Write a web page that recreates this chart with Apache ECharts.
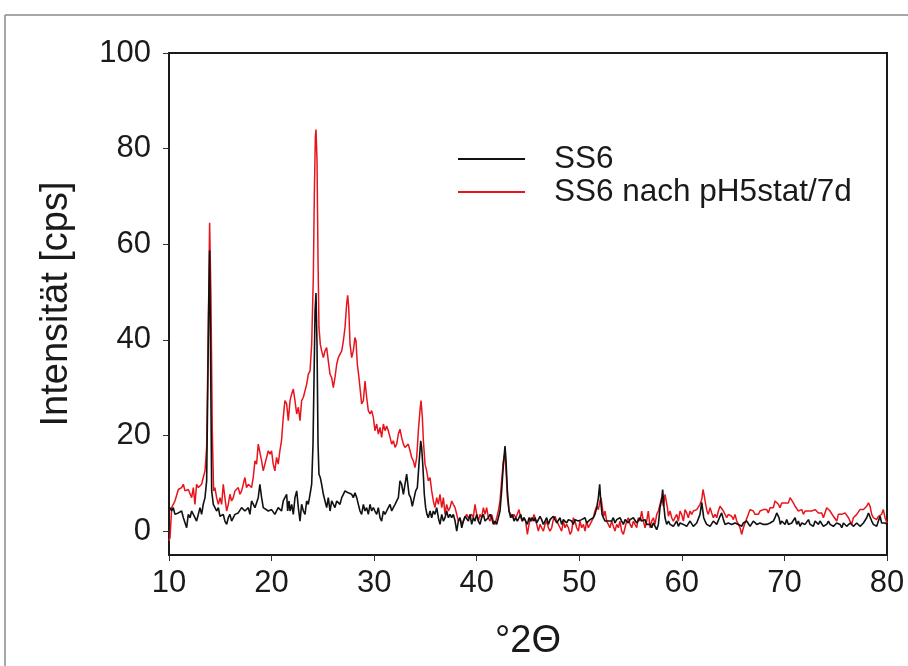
<!DOCTYPE html>
<html>
<head>
<meta charset="utf-8">
<script src="https://cdn.jsdelivr.net/npm/echarts@6/dist/echarts.min.js"></script>
<style>html,body{margin:0;padding:0;background:#fff}#c{width:908px;height:666px}</style>
</head>
<body>
<div id="c"></div>
<script>
// X axis tick values (°2Θ) and Y axis tick values (cps)
const xTicks = [10, 20, 30, 40, 50, 60, 70, 80];
const yTicks = [0, 20, 40, 60, 80, 100];
const seriesNames = ['SS6', 'SS6 nach pH5stat/7d'];

// SS6 (black)
const ss6Theta = [10.10,10.26,10.42,10.58,10.91,11.23,11.40,11.72,11.88,12.05,12.21,12.53,12.69,12.86,13.02,13.18,13.34,13.51,13.67,13.77,13.86,13.96,14.06,14.16,14.32,14.48,14.64,14.81,14.97,15.13,15.29,15.45,15.62,15.78,15.94,16.10,16.43,16.75,17.08,17.40,17.73,17.89,18.05,18.38,18.70,18.86,19.03,19.19,19.35,19.68,20.00,20.32,20.65,20.97,21.14,21.30,
21.47,21.57,21.70,21.80,21.96,22.12,22.28,22.45,22.61,22.77,22.93,23.10,23.26,23.42,23.58,23.75,23.91,24.04,24.14,24.24,24.33,24.43,24.53,24.62,24.75,24.88,25.05,25.21,25.37,25.53,25.70,25.86,26.02,26.18,26.35,26.51,26.67,26.84,27.00,27.16,27.32,27.48,27.65,27.81,27.97,28.13,28.30,28.46,28.62,28.78,28.95,29.11,29.27,29.43,29.60,29.76,29.92,30.08,30.25,30.41,30.57,30.73,30.90,31.06,31.22,31.38,31.55,31.71,31.87,32.04,32.20,32.36,32.52,32.68,32.85,33.01,
33.17,33.27,33.40,33.56,33.72,33.89,34.05,34.21,34.37,34.54,34.63,34.76,34.89,35.02,35.15,35.28,35.45,35.61,35.77,35.93,36.10,36.26,36.42,36.59,36.75,36.91,37.07,37.24,37.40,37.56,37.72,37.89,38.05,38.21,38.37,38.54,38.70,38.86,39.02,39.19,39.35,39.51,39.67,39.83,40.00,40.16,40.32,40.48,40.65,40.81,41.13,41.30,41.46,41.62,41.78,41.95,42.11,42.27,42.43,42.60,42.76,42.86,42.99,43.15,43.31,43.47,43.64,43.80,43.96,44.12,44.29,44.45,44.61,44.77,44.94,45.10,45.26,45.42,45.59,
45.69,45.85,46.01,46.17,46.33,46.50,46.66,46.82,46.99,47.15,47.31,47.47,47.63,47.80,47.96,48.12,48.28,48.45,48.61,48.77,48.94,49.10,49.26,49.42,49.58,49.75,49.91,50.07,50.23,50.40,50.56,50.72,50.88,51.05,51.21,51.37,51.53,51.70,51.86,51.99,52.09,52.22,52.35,52.51,52.67,52.83,52.99,53.16,53.32,53.48,53.65,53.81,53.97,54.13,54.30,54.46,54.62,54.78,54.95,55.11,55.27,55.43,55.60,55.76,55.92,56.08,56.25,56.41,
56.57,56.73,56.90,57.06,57.22,57.38,57.55,57.71,57.87,58.03,58.13,58.26,58.36,58.52,58.69,58.85,59.01,59.17,59.33,59.50,59.66,59.82,59.98,60.15,60.31,60.47,60.63,60.80,60.96,61.12,61.28,61.45,61.61,61.77,61.94,62.03,62.13,62.26,62.42,62.58,62.75,62.91,63.07,63.23,63.40,63.56,63.72,63.88,64.05,64.21,64.37,64.53,64.70,64.86,65.02,65.18,65.35,65.51,65.67,65.83,66.00,66.16,66.32,66.48,66.65,66.81,66.97,67.13,67.30,67.46,67.62,67.78,67.95,68.11,
68.27,68.43,68.60,68.76,68.92,69.08,69.25,69.34,69.47,69.60,69.73,69.90,70.06,70.22,70.39,70.55,70.71,70.87,71.04,71.20,71.36,71.52,71.69,71.85,72.01,72.17,72.34,72.50,72.66,72.82,72.99,73.15,73.31,73.47,73.64,73.80,73.96,74.12,74.29,74.45,74.61,74.77,74.94,75.10,75.26,75.42,75.59,75.75,75.91,76.07,76.24,76.40,76.56,76.72,76.89,77.05,77.21,77.37,77.54,77.70,77.86,78.02,78.19,78.35,78.51,78.67,78.84,78.99,79.16,79.32,79.48,79.64,79.81,80.00];
const ss6Counts = [4.9,4.2,4.9,3.5,3.8,4.2,2.8,0.7,3.5,2.8,4.2,2.8,2.1,3.5,4.9,3.5,5.6,7.0,10.5,28.0,45.5,58.7,35.0,8.4,5.6,4.9,4.2,4.9,3.1,2.8,3.5,2.1,1.4,2.8,3.5,2.1,3.5,3.8,4.9,4.2,4.9,3.5,6.3,4.9,7.0,9.8,7.0,4.9,5.2,4.2,4.5,3.5,4.9,4.2,6.3,7.0,
7.7,4.2,6.3,4.2,5.6,3.5,7.0,8.4,4.9,2.1,5.6,4.2,3.5,6.3,5.6,7.7,9.8,18.2,32.1,46.1,49.8,39.1,18.2,11.9,11.2,9.8,7.7,6.3,4.9,7.0,4.2,6.3,6.6,4.9,6.3,5.9,5.6,7.0,7.7,8.4,8.7,8.0,8.4,7.7,7.0,8.0,7.0,5.6,4.2,3.5,5.6,4.2,4.9,3.5,5.6,4.2,4.9,4.2,3.5,4.9,2.8,2.1,4.2,3.5,4.2,4.9,5.6,4.2,4.9,5.6,6.3,7.0,10.5,9.8,7.7,9.8,
11.9,11.5,7.7,7.0,5.2,4.9,8.4,9.1,14.0,18.9,17.5,13.3,7.7,4.9,3.5,2.8,4.2,2.8,4.2,3.5,4.9,2.8,1.4,3.5,2.1,2.8,4.2,2.8,3.5,2.8,3.5,2.1,0.0,2.1,2.8,0.7,2.1,3.1,2.8,2.1,3.5,1.4,2.8,2.1,3.5,2.1,1.4,2.8,3.5,2.1,2.8,3.5,2.8,1.4,2.1,1.4,1.4,4.2,8.4,14.0,17.8,14.7,8.4,4.2,2.8,3.5,2.1,2.8,2.1,2.1,3.5,2.1,2.8,2.1,1.4,2.8,2.1,2.8,2.1,
2.8,1.7,2.1,3.1,2.4,1.4,2.1,2.8,1.4,2.4,2.1,3.1,2.4,1.7,2.1,2.8,1.4,2.4,2.1,1.7,2.4,2.8,2.1,1.4,2.4,2.8,2.1,1.7,2.4,2.1,2.8,1.7,2.1,2.4,2.1,2.8,3.5,4.9,7.0,9.8,6.3,3.5,2.8,2.1,2.4,2.1,1.7,2.1,2.8,1.7,2.4,2.1,2.8,2.1,1.4,2.4,2.1,1.7,2.4,2.1,2.8,2.4,1.7,2.1,2.8,2.1,1.7,2.4,
1.4,1.0,1.4,0.7,1.7,1.4,0.3,1.4,4.9,6.6,8.7,4.9,2.8,1.4,2.1,1.4,1.7,1.0,1.4,2.1,1.0,1.7,2.1,1.4,1.7,1.0,1.4,2.1,1.7,1.0,1.4,1.7,2.1,3.5,6.0,5.6,2.8,2.1,1.4,1.7,1.0,1.4,2.1,2.1,1.4,1.7,3.1,3.8,2.4,1.4,1.0,1.7,2.1,1.4,1.0,1.7,2.1,1.4,1.0,1.0,1.7,1.4,2.1,1.7,1.0,1.4,2.1,1.7,1.4,1.0,1.7,2.1,1.4,1.4,
1.4,1.0,1.7,1.4,2.1,2.8,3.8,4.2,2.8,1.4,2.1,1.7,1.4,2.4,1.4,1.0,1.7,2.1,2.8,1.4,2.1,1.0,1.7,2.1,1.4,1.7,2.4,1.4,1.7,1.0,2.1,1.7,1.4,2.1,1.7,1.0,0.7,1.4,2.1,1.4,1.7,1.0,1.4,1.7,2.1,1.4,0.7,1.7,1.4,1.0,1.0,1.7,1.4,1.0,1.0,1.7,1.4,1.0,1.0,1.7,1.4,2.8,3.8,3.5,2.1,1.4,1.7,1.0,1.4,3.1,1.7,1.4,1.7,1.4];

// SS6 nach pH5stat/7d (red)
const phTheta = [10.00,10.10,10.26,10.58,10.91,11.23,11.40,11.56,11.88,12.21,12.37,12.53,12.69,12.86,13.18,13.34,13.51,13.67,13.83,13.96,14.09,14.22,14.35,14.48,14.64,14.81,14.97,15.13,15.29,15.45,15.62,15.78,15.94,16.10,16.27,16.43,16.75,16.92,17.08,17.40,17.56,17.73,18.05,18.21,18.38,18.54,18.70,18.86,19.03,19.19,19.35,19.51,19.68,19.84,20.00,20.16,20.32,20.49,20.65,20.81,20.97,21.14,21.30,
21.47,21.63,21.80,21.96,22.12,22.28,22.45,22.61,22.77,22.93,23.10,23.26,23.42,23.58,23.75,23.91,24.07,24.17,24.27,24.33,24.43,24.53,24.62,24.75,24.88,25.05,25.21,25.37,25.53,25.70,25.86,26.02,26.18,26.35,26.51,26.67,26.84,27.00,27.16,27.32,27.42,27.52,27.65,27.81,27.97,28.13,28.23,28.36,28.52,28.62,28.78,28.95,29.11,29.27,29.43,29.60,29.76,29.92,30.08,30.25,30.41,30.57,30.73,30.90,31.06,31.22,31.38,31.55,31.71,31.87,32.04,32.20,32.36,32.52,32.68,32.85,33.01,
33.17,33.33,33.50,33.66,33.82,33.98,34.15,34.31,34.47,34.57,34.70,34.80,34.96,35.12,35.28,35.45,35.61,35.77,35.93,36.10,36.26,36.42,36.59,36.75,36.91,37.07,37.24,37.40,37.56,37.72,37.89,38.05,38.21,38.37,38.54,38.70,38.86,39.02,39.19,39.35,39.51,39.67,39.83,40.00,40.16,40.32,40.48,40.65,40.81,40.97,41.13,41.30,41.46,41.62,41.78,41.95,42.11,42.27,42.43,42.60,42.73,42.86,42.99,43.15,43.31,43.47,43.64,43.80,43.96,44.12,44.29,44.45,44.61,44.77,44.94,45.10,45.26,45.42,45.59,
45.69,45.85,46.01,46.17,46.33,46.50,46.66,46.82,46.99,47.15,47.31,47.47,47.63,47.80,47.96,48.12,48.28,48.45,48.61,48.77,48.94,49.10,49.26,49.42,49.58,49.75,49.91,50.07,50.23,50.40,50.56,50.72,50.88,51.05,51.21,51.37,51.53,51.70,51.86,52.02,52.12,52.25,52.38,52.51,52.67,52.83,52.99,53.16,53.32,53.48,53.65,53.81,53.97,54.13,54.30,54.46,54.62,54.78,54.95,55.11,55.27,55.43,55.60,55.76,55.92,56.08,56.25,56.41,
56.57,56.73,56.90,57.06,57.22,57.38,57.55,57.71,57.87,58.03,58.20,58.36,58.46,58.59,58.69,58.85,59.01,59.17,59.33,59.50,59.66,59.82,59.98,60.15,60.31,60.47,60.63,60.80,60.96,61.12,61.28,61.45,61.61,61.77,61.94,62.06,62.19,62.32,62.45,62.58,62.75,62.91,63.07,63.23,63.40,63.56,63.72,63.88,64.05,64.21,64.37,64.53,64.70,64.86,65.02,65.18,65.35,65.51,65.67,65.83,66.00,66.16,66.32,66.48,66.65,66.81,66.97,67.13,67.30,67.46,67.62,67.78,67.95,68.11,
68.27,68.43,68.60,68.76,68.92,69.08,69.25,69.41,69.57,69.73,69.90,70.06,70.22,70.39,70.55,70.71,70.87,71.04,71.20,71.36,71.52,71.69,71.85,72.01,72.17,72.34,72.50,72.66,72.82,72.99,73.15,73.31,73.47,73.64,73.80,73.96,74.12,74.29,74.45,74.61,74.77,74.94,75.10,75.26,75.42,75.59,75.75,75.91,76.07,76.24,76.40,76.56,76.72,76.89,77.05,77.21,77.37,77.54,77.70,77.86,78.02,78.19,78.35,78.51,78.67,78.84,78.99,79.16,79.32,79.48,79.64,79.81,80.00];
const phCounts = [-2.0,-1.4,4.9,6.3,8.7,9.1,9.8,8.4,8.7,7.0,9.1,5.6,9.8,9.1,9.8,11.2,12.6,17.5,42.0,64.5,49.0,21.0,8.4,9.1,7.0,5.6,7.0,5.6,9.8,7.0,4.2,5.6,7.7,6.3,7.0,8.4,9.1,7.7,8.4,11.2,9.1,9.8,9.1,11.2,14.7,14.0,18.2,18.2,14.7,12.6,14.0,14.0,16.8,16.1,16.8,14.0,12.6,15.4,14.0,16.8,18.9,23.8,27.3,
26.6,23.1,27.3,28.7,29.7,27.3,24.5,25.9,23.1,27.3,28.0,28.0,30.7,32.8,33.5,39.1,53.1,70.6,82.5,84.0,77.6,56.6,42.6,39.1,37.7,36.3,37.7,38.4,35.6,32.8,32.1,30.0,32.1,34.9,36.3,37.0,37.7,39.8,42.6,47.5,49.3,46.8,39.1,36.3,37.7,40.5,39.8,34.9,32.1,30.0,26.6,27.3,31.4,28.0,25.2,24.5,25.2,23.8,21.0,22.4,20.3,21.7,19.6,22.4,21.0,22.0,21.0,19.6,18.2,18.9,17.5,18.2,20.3,21.3,19.6,18.2,17.5,
17.5,18.2,16.8,15.4,14.7,13.3,15.4,21.0,25.2,27.3,23.8,18.9,14.0,12.6,10.5,11.2,8.4,6.3,4.9,7.0,5.6,7.7,4.9,7.0,3.5,5.6,4.2,4.9,6.3,5.6,4.9,3.5,2.1,2.8,1.4,2.1,2.8,3.5,2.8,3.1,3.5,2.8,5.6,3.5,2.1,3.5,2.8,4.9,3.5,4.9,2.8,2.1,3.5,2.1,1.4,2.8,4.2,6.3,10.5,14.7,16.1,12.6,7.0,4.2,3.5,2.8,3.5,2.8,3.5,4.5,2.8,2.1,2.8,2.1,-0.7,1.4,2.8,2.1,3.5,
2.8,1.4,0.0,1.4,0.7,0.0,1.4,2.1,0.7,0.0,0.7,2.4,3.1,2.1,1.4,0.7,0.0,2.1,0.7,1.4,0.7,-0.7,0.0,2.8,2.1,0.7,0.0,2.1,0.7,1.4,0.0,2.1,0.7,1.4,2.1,2.8,4.2,5.2,4.5,6.3,7.0,4.9,3.1,4.2,2.1,1.4,0.7,2.1,1.0,0.0,1.4,0.7,2.1,0.0,-0.7,0.7,2.1,2.8,1.4,0.7,2.1,1.4,0.7,2.8,2.1,4.2,2.1,0.7,
2.1,4.2,0.7,2.1,2.8,1.4,3.5,4.2,5.6,7.0,5.2,7.7,8.0,4.9,3.1,4.2,2.8,2.1,2.8,3.5,2.1,4.2,3.5,2.1,4.5,3.8,2.8,4.2,3.5,4.2,3.8,4.5,4.9,5.6,6.6,8.7,7.3,5.6,4.2,3.5,4.9,3.8,2.8,3.5,2.8,4.2,5.2,5.6,4.2,3.5,2.8,3.5,3.8,3.1,2.4,3.5,2.1,1.4,0.7,-0.7,0.7,1.7,2.1,3.5,4.5,4.5,4.2,3.5,3.8,3.5,4.2,3.8,4.5,4.2,
4.5,3.8,4.9,5.2,4.9,6.3,6.6,5.6,4.9,5.9,5.6,5.9,6.3,5.9,7.0,7.3,5.9,5.2,4.9,4.2,3.8,4.5,3.5,4.2,3.8,4.2,4.5,4.2,4.5,4.5,4.2,3.8,4.2,3.8,2.8,3.1,4.9,5.2,4.2,3.8,3.1,2.8,2.1,3.5,3.8,3.5,3.1,3.8,4.2,2.8,2.1,1.4,2.8,2.4,3.5,3.8,4.5,4.2,4.5,4.9,5.2,5.9,5.2,3.5,2.8,3.1,2.4,3.1,2.8,3.5,4.5,2.8,1.7];

const zip = (xs, ys) => xs.map((x, i) => [x, ys[i]]);

const chart = echarts.init(document.getElementById('c'), null, {renderer: 'canvas'});
const FONT = 'Liberation Sans, Arial, sans-serif';
chart.setOption({
  animation: false,
  backgroundColor: '#fff',
  grid: {left: 169, right: 21, top: 53, bottom: 111, show: true, borderColor: '#1a1a1a', borderWidth: 2, containLabel: false},
  graphic: [
    {type: 'line', shape: {x1: 5, y1: 15, x2: 908, y2: 15}, style: {stroke: '#8a8a8a', lineWidth: 1.5}, silent: true},
    {type: 'line', shape: {x1: 5, y1: 15, x2: 5, y2: 666}, style: {stroke: '#8a8a8a', lineWidth: 1.5}, silent: true}
  ],
  legend: {
    orient: 'vertical', left: 453, top: 138, itemWidth: 67, itemHeight: 2, itemGap: 1,
    icon: 'rect',
    data: seriesNames,
    textStyle: {fontFamily: FONT, fontSize: 31.5, color: '#1a1a1a', padding: [0, 0, 0, 24], lineHeight: 31}
  },
  xAxis: {
    type: 'value', min: 10, max: 80, interval: 10,
    name: '°2Θ', nameLocation: 'middle', nameGap: 68,
    nameTextStyle: {fontFamily: FONT, fontSize: 38, color: '#1a1a1a'},
    axisLine: {show: true, onZero: false, lineStyle: {color: '#1a1a1a', width: 2}},
    axisTick: {show: true, inside: false, length: 6, lineStyle: {color: '#333', width: 1}},
    axisLabel: {fontFamily: FONT, fontSize: 31, color: '#1a1a1a', margin: 13},
    splitLine: {show: false}
  },
  yAxis: {
    type: 'value', min: -5, max: 100,
    name: 'Intensität [cps]', nameLocation: 'middle', nameGap: 93,
    nameTextStyle: {fontFamily: FONT, fontSize: 38, color: '#1a1a1a'},
    axisLine: {show: true, onZero: false, lineStyle: {color: '#1a1a1a', width: 2}},
    axisTick: {show: true, inside: false, length: 6, customValues: yTicks, lineStyle: {color: '#333', width: 1}},
    axisLabel: {fontFamily: FONT, fontSize: 31, color: '#1a1a1a', margin: 18, customValues: yTicks},
    splitLine: {show: false}
  },
  series: [
    {name: seriesNames[0], type: 'line', data: zip(ss6Theta, ss6Counts), showSymbol: false, symbol: 'none', z: 3,
     lineStyle: {color: '#111', width: 1.6}, itemStyle: {color: '#111'}},
    {name: seriesNames[1], type: 'line', data: zip(phTheta, phCounts), showSymbol: false, symbol: 'none', z: 2,
     lineStyle: {color: '#e8141c', width: 1.5}, itemStyle: {color: '#e8141c'}}
  ]
});
</script>
</body>
</html>
